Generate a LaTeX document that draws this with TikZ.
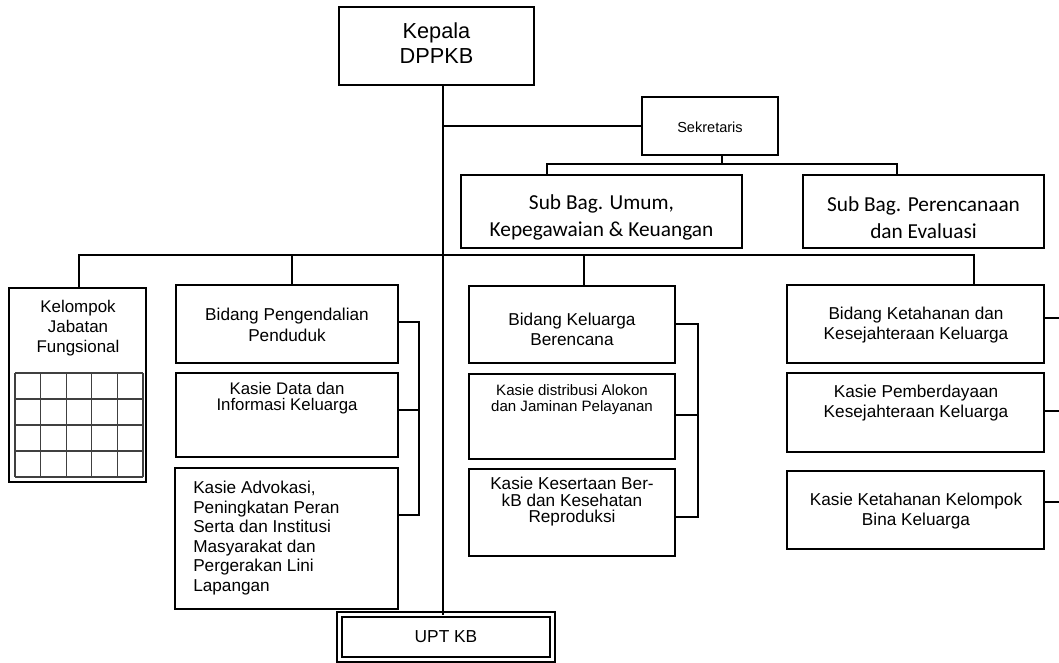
\documentclass[tikz,border=0pt]{standalone}
\usepackage{fontspec}
\setmainfont{Liberation Sans}
\newfontfamily\calfont{Carlito}
\begin{document}
\begin{tikzpicture}[x=0.75pt,y=-0.75pt,
  bx/.style 2 args={draw, line width=1.5pt, inner sep=0pt, outer sep=0pt, rectangle,
     minimum width=#1*0.75pt, minimum height=#2*0.75pt},
  conn/.style={draw, line width=1.5pt},
  gridln/.style={draw=black!75, line width=1pt},
  txt/.style={inner sep=0pt, align=center, font=\fontsize{12.9}{15}\selectfont},
  tighttxt/.style={inner sep=0pt, align=center, font=\fontsize{12.9}{12.4}\selectfont},
  caltxt/.style={inner sep=0pt, align=center, font=\calfont\fontsize{16}{20.25}\selectfont}]
\useasboundingbox (0,0) rectangle (1059,663);

% boxes
\node[bx={195}{78}] (kepala) at (436.5,46) {};
\node[inner sep=0pt, align=center, font=\fontsize{16.3}{18.75}\selectfont] (kepalaT) at (436.5,43) {Kepala\\DPPKB};

\node[bx={136}{58}] (sek) at (710,126) {};
\node[inner sep=0pt, font=\fontsize{10.9}{12}\selectfont] (sekT) at (710,127) {Sekretaris};

\node[bx={281}{73}] (umum) at (601.5,211.5) {};
\node[caltxt] (umumT) at (601.5,217) {Sub Bag. Umum,\\Kepegawaian \& Keuangan};

\node[bx={241}{73}] (ren) at (923.5,211.5) {};
\node[caltxt] (renT) at (923.5,218) {Sub Bag. Perencanaan\\dan Evaluasi};

\node[bx={137}{194}] (kel) at (77.5,385) {};
\node[txt, font=\fontsize{12.7}{15}\selectfont] (kelT) at (78,328) {Kelompok\\Jabatan\\Fungsional};
\foreach \i in {0,...,5} {
  \draw[gridln] (15+25.6*\i,373) -- (15+25.6*\i,477);
}
\foreach \j in {0,...,4} {
  \draw[gridln] (15,373+26*\j) -- (143,373+26*\j);
}

\node[bx={222}{78}] (bp) at (287,324) {};
\node[txt, font=\fontsize{12.9}{15.75}\selectfont] (bpT) at (287,325) {Bidang Pengendalian\\Penduduk};

\node[bx={222}{84}] (kd) at (287,415) {};
\node[tighttxt, font=\fontsize{12.6}{12.2}\selectfont] (kdT) at (287,398) {Kasie Data dan\\Informasi Keluarga};

\node[bx={223}{141}] (ka) at (286.5,538.5) {};
\node[inner sep=0pt, align=left, anchor=west, font=\fontsize{12.9}{14.7}\selectfont] (kaT) at (193,538)
  {Kasie Advokasi,\\Peningkatan Peran\\Serta dan Institusi\\Masyarakat dan\\Pergerakan Lini\\Lapangan};

\node[bx={206}{77}] (bkb) at (572,324.5) {};
\node[txt] (bkbT) at (572,329) {Bidang Keluarga\\Berencana};

\node[bx={206}{85}] (kdis) at (572,416.5) {};
\node[inner sep=0pt, align=center, font=\fontsize{11.3}{12}\selectfont] (kdisT) at (572,400) {Kasie distribusi Alokon\\dan Jaminan Pelayanan};

\node[bx={206}{87}] (kks) at (572,512.5) {};
\node[tighttxt] (kksT) at (572,502) {Kasie Kesertaan Ber-\\kB dan Kesehatan\\Reproduksi};

\node[bx={257}{78}] (bkt) at (915.5,324) {};
\node[txt] (bktT) at (916,325) {Bidang Ketahanan dan\\Kesejahteraan Keluarga};

\node[bx={257}{79}] (kpk) at (915.5,412.5) {};
\node[txt] (kpkT) at (916,403) {Kasie Pemberdayaan\\Kesejahteraan Keluarga};

\node[bx={257}{78}] (kkk) at (915.5,510) {};
\node[txt] (kkkT) at (916,511) {Kasie Ketahanan Kelompok\\Bina Keluarga};

\node[draw, double, double distance=2.85pt, line width=0.9pt, inner sep=0pt, outer sep=0pt,
  minimum width=213*0.75pt, minimum height=45*0.75pt] (upt) at (446,637) {};
\node[inner sep=0pt, font=\fontsize{13}{15}\selectfont] (uptT) at (446,637) {UPT KB};

% coordinates
\coordinate (mx) at (443,0);
\coordinate (sb) at (722,164);
\coordinate (umx) at (547,164);
\coordinate (renx) at (897,164);
\coordinate (h1) at (79,255);
\coordinate (h2) at (292,255);
\coordinate (h3) at (584,255);
\coordinate (h4) at (974,255);
\coordinate (lb1) at (419,322);
\coordinate (lb2) at (419,410);
\coordinate (lb3) at (419,515);
\coordinate (mb1) at (698,324);
\coordinate (mb2) at (698,415);
\coordinate (mb3) at (698,517);
\coordinate (r1) at (1059,318);
\coordinate (r2) at (1059,411);
\coordinate (r3) at (1059,502);

% connectors
\draw[conn] (kepala.south -| mx) -- (upt.north -| mx);
\draw[conn] (mx |- sek.west) -- (sek.west);
\draw[conn] (sek.south -| sb) -- (sb);
\draw[conn] (umum.north -| umx) -- (umx) -- (renx) -- (ren.north -| renx);
\draw[conn] (kel.north -| h1) -- (h1) -- (h4) -- (bkt.north -| h4);
\draw[conn] (h2) -- (bp.north -| h2);
\draw[conn] (h3) -- (bkb.north -| h3);
\draw[conn] (bp.east |- lb1) -- (lb1) -- (lb3) -- (ka.east |- lb3);
\draw[conn] (kd.east |- lb2) -- (lb2);
\draw[conn] (bkb.east |- mb1) -- (mb1) -- (mb3) -- (kks.east |- mb3);
\draw[conn] (kdis.east |- mb2) -- (mb2);
\draw[conn] (bkt.east |- r1) -- (r1);
\draw[conn] (kpk.east |- r2) -- (r2);
\draw[conn] (kkk.east |- r3) -- (r3);
\end{tikzpicture}
\end{document}
